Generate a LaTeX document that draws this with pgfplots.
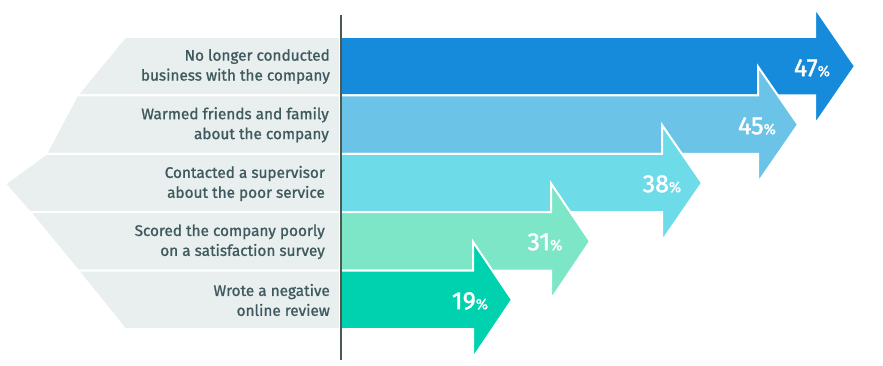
\documentclass[border=0pt]{standalone}
\usepackage{pgfplots}
\pgfplotsset{compat=1.18}
\usepackage{fontspec}
\setmainfont{Fira Sans}
\newfontfamily\medfont{Fira Sans}[FakeBold=1.1]
\newfontfamily\numfont{Fira Sans}[FakeBold=1.6]
\definecolor{cA}{HTML}{168BDB}
\definecolor{cB}{HTML}{6BC3E7}
\definecolor{cC}{HTML}{6EDBE8}
\definecolor{cD}{HTML}{7DE6C6}
\definecolor{cE}{HTML}{00D1AF}
\definecolor{greybg}{HTML}{E9EFEE}
\definecolor{txt}{HTML}{3F5A5E}
\definecolor{vline}{HTML}{4A5A50}
\newcommand{\pct}[1]{{\numfont\fontsize{25}{25}\selectfont #1}{\medfont\fontsize{15}{15}\selectfont\%}}
\begin{document}
\begin{tikzpicture}
\begin{axis}[
  width=883bp, height=366bp, scale only axis,
  xmin=0, xmax=883, ymin=0, ymax=366, y dir=reverse,
  hide axis, clip=false,
]
% left grey label panels
\addplot[fill=greybg, draw=white, line width=2bp] coordinates {(341,37) (125,37) (77,95.4) (341,95.4)} --cycle;
\addplot[fill=greybg, draw=white, line width=2bp] coordinates {(341,95.4) (77,95.4) (46,153.8) (341,153.8)} --cycle;
\addplot[fill=greybg, draw=white, line width=2bp] coordinates {(341,153.8) (46,153.8) (5,184) (30,212.2) (341,212.2)} --cycle;
\addplot[fill=greybg, draw=white, line width=2bp] coordinates {(341,212.2) (30,212.2) (78,270.6) (341,270.6)} --cycle;
\addplot[fill=greybg, draw=white, line width=2bp] coordinates {(341,270.6) (78,270.6) (125,329) (341,329)} --cycle;
% arrows: top, bottom, shaft end, tip  (value 47, 45, 38, 31, 19)
\addplot[fill=cA, draw=white, line width=2bp] coordinates {(340,37) (815,37) (815,8) (855,66.2) (815,124.4) (815,95.4) (340,95.4)} --cycle;
\addplot[fill=cB, draw=white, line width=2bp] coordinates {(340,95.4) (758,95.4) (758,66.6) (798,124.6) (758,182.6) (758,153.8) (340,153.8)} --cycle;
\addplot[fill=cC, draw=white, line width=2bp] coordinates {(340,153.8) (662,153.8) (662,125) (702,183) (662,241) (662,212.2) (340,212.2)} --cycle;
\addplot[fill=cD, draw=white, line width=2bp] coordinates {(340,212.2) (551,212.2) (551,183.4) (590,241.4) (551,299.4) (551,270.6) (340,270.6)} --cycle;
\addplot[fill=cE, draw=white, line width=2bp] coordinates {(340,270.6) (473,270.6) (473,241.8) (512,299.8) (473,357.8) (473,329) (340,329)} --cycle;
% vertical line
\addplot[draw=vline, line width=1.6bp] coordinates {(341,15) (341,360)};
% value labels
\node[text=white, anchor=center] at (axis cs:812,68) {\pct{47}};
\node[text=white, anchor=center] at (axis cs:757,126) {\pct{45}};
\node[text=white, anchor=center] at (axis cs:662,184) {\pct{38}};
\node[text=white, anchor=center] at (axis cs:545,242) {\pct{31}};
\node[text=white, anchor=center] at (axis cs:470,301) {\pct{19}};
% category labels
\begin{scope}[every node/.style={text=txt, anchor=east, align=right, font=\medfont\fontsize{15.4}{20}\selectfont, inner sep=0pt}]
\node at (axis cs:330,66.5) {No longer conducted\\business with the company};
\node at (axis cs:329,124.8) {Warmed friends and family\\about the company};
\node at (axis cs:325,183.5) {Contacted a supervisor\\about the poor service};
\node at (axis cs:325,241.8) {Scored the company poorly\\on a satisfaction survey};
\node at (axis cs:330,300) {Wrote a negative\\online review};
\end{scope}
\end{axis}
\pgfresetboundingbox
\path (current axis.south west) rectangle (current axis.north east);
\end{tikzpicture}
\end{document}
